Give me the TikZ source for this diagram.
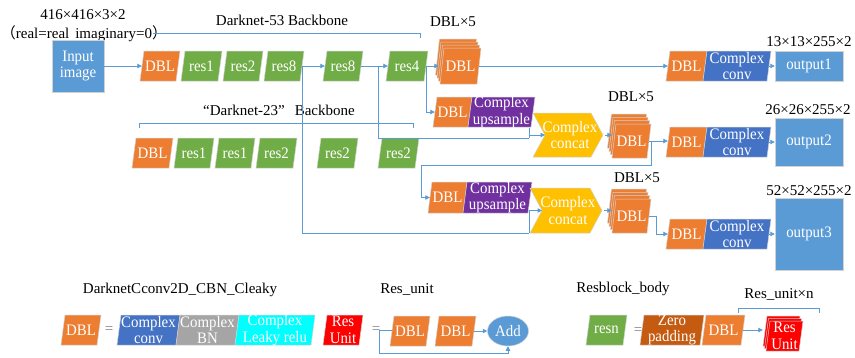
\documentclass[tikz,border=0pt]{standalone}
\usepackage{fontspec}
\setmainfont{Liberation Serif}
\newfontfamily\cjk{Noto Sans CJK SC}
\newfontfamily\boxfont{Liberation Serif}[FakeStretch=0.93]
\usetikzlibrary{arrows.meta,shapes.geometric}
\definecolor{corange}{HTML}{ED7D31}
\definecolor{cgreen}{HTML}{70AD47}
\definecolor{clblue}{HTML}{5B9BD5}
\definecolor{cdblue}{HTML}{4472C4}
\definecolor{cpurple}{HTML}{7030A0}
\definecolor{cyellow}{HTML}{FFC000}
\definecolor{cgray}{HTML}{A5A5A5}
\definecolor{ccyan}{HTML}{00FFFF}
\definecolor{cred}{HTML}{FF0000}
\definecolor{cbrown}{HTML}{C55A11}
\definecolor{clink}{HTML}{5B9BD5}
\tikzset{
 boxtxt/.style={inner sep=0pt, text=white, align=center, font=\boxfont\fontsize{16}{16.5}\selectfont},
 lbl/.style={inner sep=0pt, font=\fontsize{15}{16}\selectfont},
 conn/.style={draw=clink, line width=0.8pt},
 arr/.style={conn, -{Triangle[length=4.5pt,width=4.5pt]}},
 edgeline/.style={draw=gray!35, line width=0.5pt},
}
\def\pgS{4}
% parallelogram: name, x1 (bottom-left), y1 (top), x2 (top-right), y2 (bottom), colour, text
\newcommand\pgm[7]{%
  \pgfmathsetmacro\pgCX{(#2+#4)/2}%
  \pgfmathsetmacro\pgCY{(#3+#5)/2}%
  \pgfmathsetmacro\pgW{#4-#2-\pgS}%
  \pgfmathsetmacro\pgH{#5-#3}%
  \path[fill=#6, edgeline] (#2+\pgS,#3) -- (#4,#3) -- (#4-\pgS,#5) -- (#2,#5) -- cycle;
  \node[boxtxt, minimum width=\pgW pt, minimum height=\pgH pt] (#1) at (\pgCX,\pgCY) {#7};}
% stacked parallelograms: ... , layers, dy
\newcommand\stk[9]{%
  \foreach \k in {#8,...,1}{%
    \path[fill=#6, edgeline, shift={(-1.5*\k,-#9*\k)}] (#2+\pgS,#3) -- (#4,#3) -- (#4-\pgS,#5) -- (#2,#5) -- cycle;}
  \pgm{#1}{#2}{#3}{#4}{#5}{#6}{#7}}
% chevron: name, x1, y1, x2, y2, text
\newcommand\chev[6]{%
  \pgfmathsetmacro\pgCX{(#2+#4)/2}%
  \pgfmathsetmacro\pgCY{(#3+#5)/2}%
  \pgfmathsetmacro\pgW{#4-#2}%
  \pgfmathsetmacro\pgH{#5-#3}%
  \path[fill=cyellow, edgeline] (#2,#3) -- (#4-12,#3) -- (#4,\pgCY) -- (#4-12,#5) -- (#2,#5) -- (#2+12,\pgCY) -- cycle;
  \node[boxtxt, minimum width=\pgW pt, minimum height=\pgH pt] (#1) at (\pgCX+2,\pgCY) {#6};
  \coordinate (#1n) at (#2+12,\pgCY);}
\begin{document}
\begin{tikzpicture}[x=1pt,y=-1pt]
\useasboundingbox (0,0) rectangle (855,357);
% ---------- labels ----------
\node[lbl] (t416) at (83,15) {416×416×3×2};
\node[lbl] (treal) at (84,34) {{\cjk （}real=real\hspace{6pt}imaginary=0{\cjk ）}};
\node[lbl] (t53) at (282,20) {Darknet-53 Backbone};
\node[lbl] (tx1) at (453,22) {DBL×5};
\node[lbl] (ts1) at (809,42) {13×13×255×2};
\node[lbl] (tx2) at (631,97) {DBL×5};
\node[lbl] (ts2) at (808,110) {26×26×255×2};
\node[lbl] (tx3) at (637,178) {DBL×5};
\node[lbl] (ts3) at (809,191) {52×52×255×2};
\node[lbl] (t23) at (279,110) {“Darknet-23”\hspace{10pt}Backbone};
\node[lbl] (tdbl) at (180,290) {DarknetCconv2D\_CBN\_Cleaky};
\node[lbl] (tres) at (407,289) {Res\_unit};
\node[lbl] (tblk) at (623,289) {Resblock\_body};
\node[lbl] (tresn) at (779,294) {Res\_unit×n};
\node[lbl, text=gray] (eq1) at (109,330) {=};
\node[lbl, text=gray] (eq2) at (376,330) {=};
\node[lbl, text=gray] (eq3) at (638,331) {=};
% ---------- main row ----------
\node[boxtxt, fill=clblue, edgeline, minimum width=52pt, minimum height=52pt] (inp) at (78,66) {Input\\image};
\pgm{dbl0}{140}{51}{180}{81}{corange}{DBL}
\pgm{r1}{181}{51}{222}{81}{cgreen}{res1}
\pgm{r2}{223}{51}{263}{81}{cgreen}{res2}
\pgm{r8a}{264}{51}{304}{81}{cgreen}{res8}
\pgm{r8b}{323}{51}{363}{81}{cgreen}{res8}
\pgm{r4}{386}{51}{428}{81}{cgreen}{res4}
\stk{stk1}{440}{48}{481}{84}{corange}{DBL}{3}{3}
\pgm{o1dbl}{666}{51}{707}{81}{corange}{DBL}
\pgm{o1conv}{703}{51}{771}{81}{cdblue}{Complex\\conv}
\node[boxtxt, fill=clblue, edgeline, minimum width=68pt, minimum height=30pt] (out1) at (809,66) {output1};
% ---------- second branch ----------
\pgm{u1dbl}{433}{97}{472}{127}{corange}{DBL}
\pgm{u1up}{468}{97}{535}{127}{cpurple}{Complex\\upsample}
\chev{cat1}{533}{113}{603}{157}{Complex\\concat}
\stk{stk2}{612}{124}{651}{158}{corange}{DBL}{3}{3.3}
\pgm{o2dbl}{666}{127}{707}{157}{corange}{DBL}
\pgm{o2conv}{703}{127}{771}{157}{cdblue}{Complex\\conv}
\node[boxtxt, fill=clblue, edgeline, minimum width=68pt, minimum height=48pt] (out2) at (809,142) {output2};
% ---------- third branch ----------
\pgm{u2dbl}{428}{182}{467}{213}{corange}{DBL}
\pgm{u2up}{463}{182}{532}{213}{cpurple}{Complex\\upsample}
\chev{cat2}{530}{188}{602}{233}{Complex\\concat}
\stk{stk3}{612}{199}{651}{233}{corange}{DBL}{3}{3.3}
\pgm{o3dbl}{666}{219}{707}{249}{corange}{DBL}
\pgm{o3conv}{703}{219}{771}{249}{cdblue}{Complex\\conv}
\node[boxtxt, fill=clblue, edgeline, minimum width=68pt, minimum height=72pt] (out3) at (809,234) {output3};
% ---------- Darknet-23 row ----------
\pgm{e0}{132}{138}{173}{168}{corange}{DBL}
\pgm{e1}{174}{138}{214}{168}{cgreen}{res1}
\pgm{e2}{215}{138}{255}{168}{cgreen}{res1}
\pgm{e3}{256}{138}{297}{168}{cgreen}{res2}
\pgm{e4}{317}{138}{358}{168}{cgreen}{res2}
\pgm{e5}{378}{138}{419}{168}{cgreen}{res2}
% ---------- legend ----------
\pgm{ldbl}{61}{315}{101}{345}{corange}{DBL}
\pgm{lconv}{117}{315}{180}{345}{cdblue}{Complex\\conv}
\pgm{lbn}{176}{315}{239}{345}{cgray}{Complex\\BN}
\pgm{lrelu}{235}{315}{315}{345}{ccyan}{Complex\\Leaky relu}
\pgm{lres}{323}{315}{363}{345}{cred}{Res\\Unit}
\pgm{rdbl1}{390}{316}{430}{346}{corange}{DBL}
\pgm{rdbl2}{435}{316}{476}{346}{corange}{DBL}
\node[boxtxt, ellipse, fill=clblue, edgeline, minimum width=41pt, minimum height=30pt] (radd) at (508,331) {Add};
\pgm{resn}{586}{315}{627}{345}{cgreen}{resn}
\pgm{zpad}{640}{315}{704}{345}{cbrown}{Zero\\padding}
\pgm{rbdbl}{702}{315}{745}{345}{corange}{DBL}
\stk{rustk}{766}{321}{803}{351}{cred}{Res\\Unit}{2}{2.5}
% ---------- brackets ----------
\coordinate (b1a) at (153,33); \coordinate (b1b) at (420,38);
\draw[conn] (b1a) -| (b1b);
\coordinate (b2a) at (139,128); \coordinate (b2b) at (413,123); \coordinate (b2c) at (413,128);
\draw[conn] (b2a) |- (b2b) -- (b2c);
\coordinate (b3a) at (738,313); \coordinate (b3b) at (819,308); \coordinate (b3c) at (819,313);
\draw[conn] (b3a) |- (b3b) -- (b3c);
% ---------- connectors ----------
\draw[arr] (inp) -- (dbl0);
\draw[arr] (r8a) -- (r8b);
\draw[arr] (r8b) -- (r4);
\draw[arr, shorten >=3pt] (r4) -- (stk1);
\draw[arr] (stk1) -- (o1dbl);
\draw[arr] (o1conv) -- (out1);
\draw[arr] (r4.east) |- (u1dbl.west);
\coordinate (j2) at (378,66);
\coordinate (k1) at (529,138);
\draw[conn] (j2) |- (k1);
\draw[conn] (k1 |- u1up.south) -- (k1 |- cat1n);
\draw[arr] (k1) |- (cat1n);
\coordinate (k2) at (529,233);
\draw[conn] (r8a.east) |- (k2);
\draw[conn] (k2 |- u2up.south) -- (k2 |- cat2n);
\draw[arr] (k2) |- (cat2n);
\draw[arr, shorten >=2pt] (cat1.east) -- (cat1.east -| stk2.west);
\draw[arr] (stk2.east) -- (stk2.east -| o2dbl.west);
\coordinate (m1) at (651,141); \coordinate (m2) at (421,165);
\draw[arr] (m1) |- (m2) |- (u2dbl.west);
\draw[arr, shorten >=2pt] (cat2.east) -- (cat2.east -| stk3.west);
\coordinate (m3) at (656,234);
\draw[arr] (stk3.east) -| (m3) -- (o3dbl.west);
\draw[arr] (o2conv) -- (out2);
\draw[arr] (o3conv) -- (out3);
\coordinate (q1) at (379,330.5); \coordinate (q2) at (379,353);
\draw[conn] (q1) -- (rdbl1.west |- q1);
\draw[arr] (rdbl2) -- (radd);
\draw[arr] (q1) -- (q2) -| (radd.south);
\draw[arr, shorten >=5pt] (rbdbl.east) -- (rbdbl.east -| rustk.west);
\end{tikzpicture}
\end{document}
